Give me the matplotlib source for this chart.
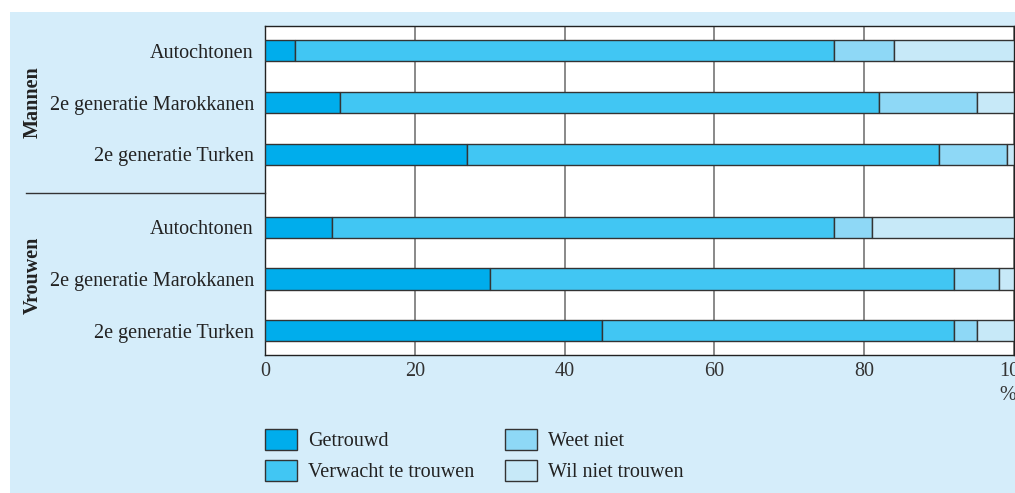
"""
Huwelijksverwachting naar herkomst en geslacht - gestapelde staafgrafiek
"""

import matplotlib
matplotlib.use("Agg")

import matplotlib.pyplot as plt
from matplotlib.patches import Rectangle, Patch

# ---------------------------------------------------------------------------
# Data (percentages)
# ---------------------------------------------------------------------------

groups = ["Autochtonen", "2e generatie Marokkanen", "2e generatie Turken"]
sexes = ["Mannen", "Vrouwen"]
series = ["Getrouwd", "Verwacht te trouwen", "Weet niet", "Wil niet trouwen"]

# rows: Mannen (3 groups) then Vrouwen (3 groups)
getrouwd = [4, 10, 27, 9, 30, 45]
verwacht = [72, 72, 63, 67, 62, 47]
weet_niet = [8, 13, 9, 5, 6, 3]
wil_niet = [16, 5, 1, 19, 2, 5]

x_ticks = [0, 20, 40, 60, 80, 100]

COLORS = ["#00adec", "#41c6f3", "#8ed8f6", "#c7e9f8"]
PANEL = "#d5edfa"
FS = 14.5

W, H = 1015, 493

plt.rcParams["font.family"] = ["Liberation Serif", "DejaVu Serif"]

fig = plt.figure(figsize=(W / 100, H / 100), dpi=100)
fig.patch.set_facecolor("white")
fig.add_artist(Rectangle((10 / W, 0), 1 - 10 / W, 1 - 12 / H,
                         transform=fig.transFigure, facecolor=PANEL,
                         edgecolor="none", zorder=-10))

ax = fig.add_axes([265 / W, 1 - 355 / H, (1014 - 265) / W, (355 - 26) / H])
ax.set_facecolor("white")

# row positions: gap between Mannen and Vrouwen blocks
ypos = [0, 1, 2, 3.41, 4.41, 5.41]
labels = groups + groups

left = [0] * len(ypos)
for name, vals, col in zip(series, [getrouwd, verwacht, weet_niet, wil_niet], COLORS):
    ax.barh(ypos, vals, left=left, height=0.41, color=col,
            edgecolor="#333333", linewidth=1.0, zorder=3, label=name)
    left = [l + v for l, v in zip(left, vals)]

ax.set_xlim(0, 100)
ax.set_ylim(5.41 + 0.47, -0.48)
ax.set_xticks(x_ticks)
ax.set_xticklabels([str(t) for t in x_ticks], fontsize=FS, color="#333333")
ax.set_yticks(ypos)
ax.set_yticklabels(labels, fontsize=FS, color="#222222")
ax.tick_params(length=0, pad=8)
ax.tick_params(axis="x", pad=5)
ax.grid(axis="x", color="#808080", linewidth=1.3, zorder=0)
for s in ax.spines.values():
    s.set_color("#222222")
    s.set_linewidth(1.0)

# sex labels and separator
fig.text(33 / W, 1 - 102 / H, "Mannen", rotation=90, ha="center", va="center",
         fontsize=FS, fontweight="bold", color="#222222")
fig.text(33 / W, 1 - 275 / H, "Vrouwen", rotation=90, ha="center", va="center",
         fontsize=FS, fontweight="bold", color="#222222")
fig.add_artist(plt.Line2D([26 / W, 265 / W], [1 - 193 / H, 1 - 193 / H],
                          transform=fig.transFigure, color="#333333", linewidth=1.0))

fig.text(1008 / W, 1 - 396 / H, "%", ha="center", va="center",
         fontsize=FS, color="#333333")

handles = [Patch(facecolor=c, edgecolor="#333333", linewidth=1.0) for c in COLORS]
fig.legend(handles, series, ncol=2, loc="upper left",
           bbox_to_anchor=(247 / W, 1 - 411 / H), frameon=False,
           fontsize=FS, handlelength=1.6, handleheight=1.2,
           labelspacing=0.45, columnspacing=1.5, handletextpad=0.55,
           labelcolor="#222222")

fig.savefig("out.png", dpi=100, facecolor=fig.get_facecolor())
